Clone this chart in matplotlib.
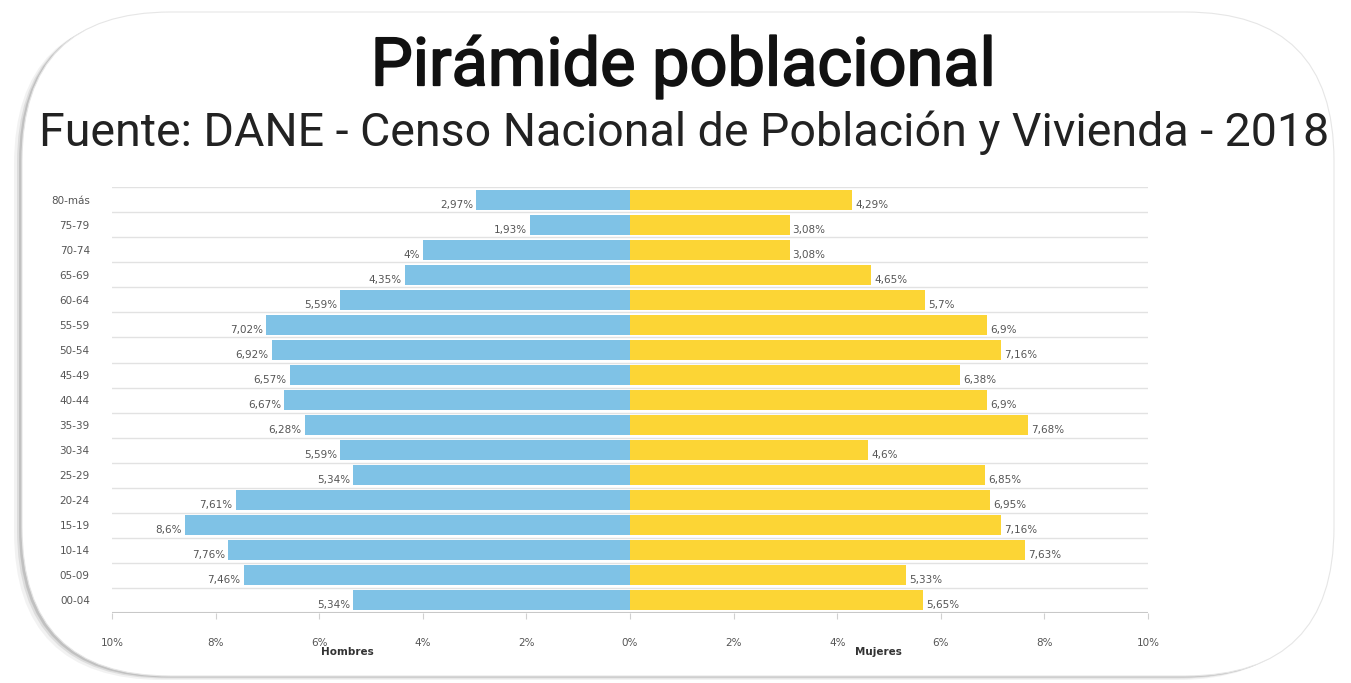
import matplotlib.pyplot as plt
import matplotlib.patheffects as pe
from matplotlib.patches import FancyBboxPatch

edades = ['00-04', '05-09', '10-14', '15-19', '20-24', '25-29', '30-34', '35-39',
          '40-44', '45-49', '50-54', '55-59', '60-64', '65-69', '70-74', '75-79', '80-más']
hombres = [5.34, 7.46, 7.76, 8.6, 7.61, 5.34, 5.59, 6.28, 6.67, 6.57, 6.92, 7.02,
           5.59, 4.35, 4, 1.93, 2.97]
mujeres = [5.65, 5.33, 7.63, 7.16, 6.95, 6.85, 4.6, 7.68, 6.9, 6.38, 7.16, 6.9,
           5.7, 4.65, 3.08, 3.08, 4.29]
ticks = [-10, -8, -6, -4, -2, 0, 2, 4, 6, 8, 10]

azul = '#7fc2e6'
amarillo = '#fcd535'
gris = '#555555'

W, H = 1351, 683
fig = plt.figure(figsize=(W / 100, H / 100), dpi=100)
fig.patch.set_facecolor('white')


def fx(px):
    return px / W


def fy(py):
    return 1 - py / H


# rounded card with a soft shadow (left / bottom)
for off, a in [(8, 0.08), (5, 0.14), (3, 0.22)]:
    fig.patches.append(FancyBboxPatch(
        (fx(22 - off), fy(676 + off * 0.5)), fx(1312), 664 / H,
        boxstyle='round,pad=0,rounding_size=0.11', transform=fig.transFigure,
        facecolor='#606060', edgecolor='none', alpha=a, zorder=-3, mutation_aspect=W / H))
fig.patches.append(FancyBboxPatch(
    (fx(22), fy(676)), fx(1312), 664 / H,
    boxstyle='round,pad=0,rounding_size=0.11', transform=fig.transFigure,
    facecolor='white', edgecolor='#e6e6e6', lw=0.8, zorder=-2, mutation_aspect=W / H))

fig.text(fx(683), fy(67), 'Pirámide poblacional', ha='center', va='center',
         fontsize=48, family='Roboto', weight='normal', color='#111111',
         path_effects=[pe.withStroke(linewidth=1.3, foreground='#111111')])
fig.text(fx(684), fy(133), 'Fuente: DANE - Censo Nacional de Población y Vivienda - 2018',
         ha='center', va='center', fontsize=33.5, family='Roboto', color='#222222')

ax = fig.add_axes([fx(112), fy(612.5), fx(1148) - fx(112), 425 / H])
ax.set_facecolor('none')
y = list(range(len(edades)))
ax.barh(y, [-v for v in hombres], height=0.8, color=azul, zorder=3)
ax.barh(y, mujeres, height=0.8, color=amarillo, zorder=3)

for i, (h, m) in enumerate(zip(hombres, mujeres)):
    ax.text(-h - 0.06, i - 0.2, f'{h:g}%'.replace('.', ','), ha='right', va='center',
            fontsize=7.5, color=gris, zorder=4)
    ax.text(m + 0.06, i - 0.2, f'{m:g}%'.replace('.', ','), ha='left', va='center',
            fontsize=7.5, color=gris, zorder=4)

ax.set_xlim(-10, 10)
ax.set_ylim(-0.5, len(edades) - 0.5)
for k in range(len(edades)):
    ax.axhline(k + 0.5, color='#e2e2e2', lw=1, zorder=1)
ax.axhline(-0.5, color='#c8c8c8', lw=1.5, zorder=2)

ax.set_yticks(y)
ax.set_yticklabels(edades, fontsize=7.5, color=gris)
ax.set_xticks(ticks)
ax.set_xticklabels([f'{abs(t)}%' for t in ticks], fontsize=7.5, color=gris)
ax.tick_params(axis='y', length=0, pad=16)
ax.tick_params(axis='x', length=4, color='#d0d0d0', pad=14)
for s in ax.spines.values():
    s.set_visible(False)

fig.text(fx(347), fy(652), 'Hombres', ha='center', va='center', fontsize=7.5,
         weight='bold', color='#333333')
fig.text(fx(878), fy(652), 'Mujeres', ha='center', va='center', fontsize=7.5,
         weight='bold', color='#333333')

fig.savefig('out.png', dpi=100)
